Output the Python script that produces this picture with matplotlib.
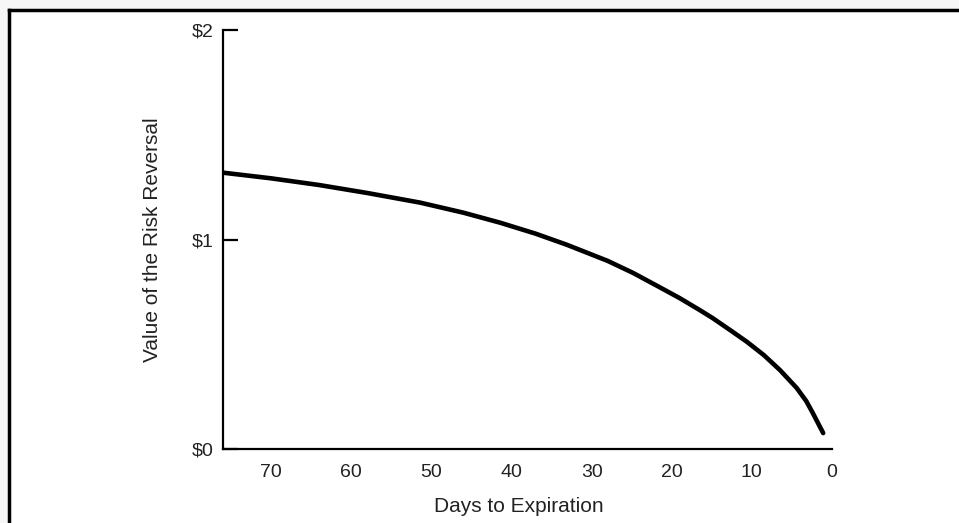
import matplotlib
matplotlib.use("Agg")
from matplotlib import pyplot as plt
from matplotlib.lines import Line2D
from matplotlib.patches import Rectangle

plt.rcParams['font.family'] = ['Liberation Sans', 'DejaVu Sans']

# days to expiration vs value of the risk reversal
days = [76.0, 70.0, 64.0, 58.0, 51.4, 46.0, 41.4, 37.0, 33.1, 28.0, 24.8, 21.5, 19.0, 16.5, 14.9, 12.5, 10.6, 8.5, 6.5, 4.4, 3.2, 2.4, 1.1]
value = [1.319, 1.292, 1.260, 1.222, 1.176, 1.128, 1.080, 1.028, 0.975, 0.898, 0.840, 0.772, 0.720, 0.663, 0.625, 0.562, 0.511, 0.448, 0.377, 0.291, 0.228, 0.172, 0.076]

x_ticks = [70, 60, 50, 40, 30, 20, 10, 0]
y_ticks = [0, 1, 2]
y_labels = ['$0', '$1', '$2']

fig = plt.figure(figsize=(9.59, 5.23), dpi=100)
fig.patch.set_facecolor('#f6f6f6')

# white panel with a frame on top and left edges (cropped page)
fig.add_artist(Rectangle((9/959, 0), 1, 1 - 10/523, transform=fig.transFigure,
                         facecolor='white', edgecolor='none', zorder=-1))
fig.add_artist(Line2D([9/959, 1], [1 - 10/523, 1 - 10/523], transform=fig.transFigure,
                      color='black', lw=2.5))
fig.add_artist(Line2D([9/959, 9/959], [0, 1 - 10/523], transform=fig.transFigure,
                      color='black', lw=2.5))

ax = fig.add_axes([223/959, 74/523, 609/959, 419/523])
ax.set_facecolor('none')
ax.plot(days, value, color='black', lw=3.3, solid_capstyle='round', solid_joinstyle='round')

ax.set_xlim(76, 0)
ax.set_ylim(0, 2)
ax.set_xticks(x_ticks)
ax.set_xticklabels([str(t) for t in x_ticks])
ax.set_yticks(y_ticks)
ax.set_yticklabels(y_labels)

for s in ['top', 'right']:
    ax.spines[s].set_visible(False)
for s in ['left', 'bottom']:
    ax.spines[s].set_linewidth(1.6)
    ax.spines[s].set_capstyle('projecting')

ax.tick_params(axis='y', direction='in', length=11, width=1.6, pad=7, labelsize=14, colors='black')
ax.tick_params(axis='x', length=0, pad=11, labelsize=14, colors='black')
ax.tick_params(axis='both', labelcolor='#222222')

ax.set_xlabel('Days to Expiration', fontsize=15, color='#222222')
ax.xaxis.set_label_coords(0.485, -0.115)
ax.set_ylabel('Value of the Risk Reversal', fontsize=15, labelpad=21, color='#222222')

fig.savefig('out.png', dpi=100, facecolor=fig.get_facecolor())
